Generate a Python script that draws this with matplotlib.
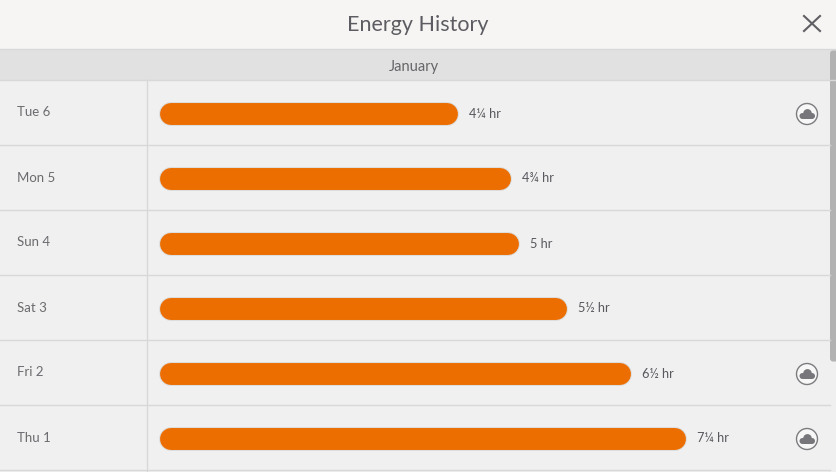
import matplotlib
matplotlib.use('Agg')
import matplotlib.pyplot as plt
from matplotlib.patches import Rectangle, Circle, FancyBboxPatch

days = ['Tue 6', 'Mon 5', 'Sun 4', 'Sat 3', 'Fri 2', 'Thu 1']
hours = [4.14, 4.875, 4.99, 5.65, 6.54, 7.31]
labels = ['4¼ hr', '4¾ hr', '5 hr', '5½ hr', '6½ hr', '7¼ hr']
cloud = [True, False, False, False, True, True]

W, H = 836, 472
PX_PER_HR = 72.0
X0 = 160
ROW_TOP = 80.5
ROW_H = 65
TEXT = '#6b6b70'
LINE = '#d8d8d8'

plt.rcParams['font.family'] = ['Lato', 'DejaVu Sans']

fig = plt.figure(figsize=(W / 100, H / 100), dpi=100, facecolor='#f0f0f0')

# page chrome, in pixels
bg = fig.add_axes([0, 0, 1, 1])
bg.set_xlim(0, W)
bg.set_ylim(H, 0)
bg.axis('off')
bg.add_patch(Rectangle((0, 0), W, 49.5, fc='#f6f5f3', ec='none'))
bg.add_patch(Rectangle((0, 49.5), W, 30.5, fc='#e1e1e1', ec='none'))
bg.plot([0, W], [48.9, 48.9], color=LINE, lw=1)
bg.plot([0, W], [79.7, 79.7], color=LINE, lw=1)
bg.plot([146.8, 146.8], [80, H], color=LINE, lw=1)
bg.text(418, 25, 'Energy History', ha='center', va='center', fontsize=15.5, color='#5c5c62')
bg.text(414, 67.5, 'January', ha='center', va='center', fontsize=10.5, color='#66666a')
bg.plot([804, 820], [16, 31], color='#5f5f64', lw=1.5)
bg.plot([804, 820], [31, 16], color='#5f5f64', lw=1.5)
bg.add_patch(FancyBboxPatch((831.5, 52), 6, 308, boxstyle='round,pad=1.5,rounding_size=3',
                            fc='#b2b2b2', ec='none'))

for i in range(len(days)):
    yc = ROW_TOP + ROW_H * i + 33
    bottom = ROW_TOP + ROW_H * (i + 1) - 0.8
    bg.plot([0, 830], [bottom, bottom], color=LINE, lw=1)
    bg.text(17, yc - 1, days[i], ha='left', va='center', fontsize=9.5, color=TEXT)
    if cloud[i]:
        cx = 807
        cy = yc + 0.5
        bg.add_patch(Circle((cx, cy), 10.5, fc='#f7f7f7', ec='#7c7c80', lw=1))
        bg.add_patch(Circle((cx - 4.5, cy + 2), 3, fc='#77777b', ec='none'))
        bg.add_patch(Circle((cx + 0.5, cy - 0.6), 4.3, fc='#77777b', ec='none'))
        bg.add_patch(Circle((cx + 5, cy + 2), 3, fc='#77777b', ec='none'))
        bg.add_patch(Rectangle((cx - 4.5, cy + 1), 9.5, 4, fc='#77777b', ec='none'))

# bars: x axis in hours, y axis in rows
ax = fig.add_axes([0, 0, 1, 1], facecolor='none')
ax.set_xlim(-X0 / PX_PER_HR, (W - X0) / PX_PER_HR)
ax.set_ylim(H, 0)
ax.axis('off')
r = 11 / PX_PER_HR
for i in range(len(days)):
    yc = ROW_TOP + ROW_H * i + 33
    ax.plot([r, hours[i] - r], [yc, yc], color='#dcdcdc', lw=17.2, solid_capstyle='round')
    ax.plot([r, hours[i] - r], [yc, yc], color='#ec6e00', lw=15.8, solid_capstyle='round')
    ax.text(hours[i] + 11 / PX_PER_HR, yc, labels[i], ha='left', va='center',
            fontsize=9.2, color='#58585e')

fig.savefig('out.png', dpi=100)
